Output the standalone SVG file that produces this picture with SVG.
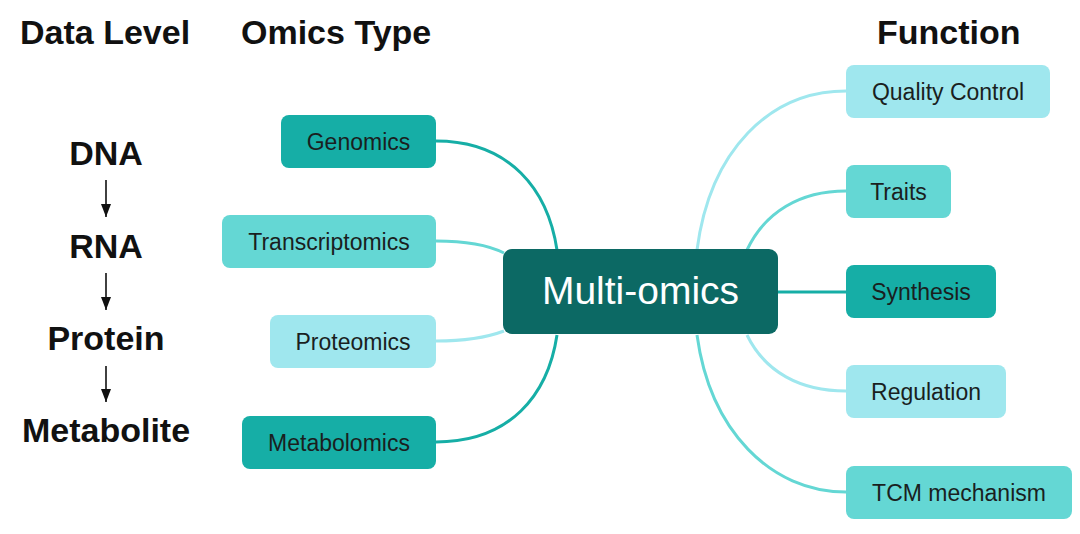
<svg xmlns="http://www.w3.org/2000/svg" width="1080" height="534" viewBox="0 0 1080 534">
<style>
.hdr{font-family:"Liberation Sans",Arial,sans-serif;font-weight:bold;font-size:34px;fill:#111}
.lvl{font-family:"Liberation Sans",Arial,sans-serif;font-weight:bold;font-size:34px;fill:#111;text-anchor:middle}
.lbl{font-family:"Liberation Sans",Arial,sans-serif;font-size:23px;fill:#1a1f1f;text-anchor:middle}
.c0{fill:#0c6964}
.c1{fill:#16aea6}
.c2{fill:#64d7d4}
.c3{fill:#9fe7ee}
.l1{stroke:#16aea6}
.l2{stroke:#64d7d4}
.l3{stroke:#9fe7ee}
.conn path{fill:none;stroke-width:3}
.arr{stroke:#111;stroke-width:1.6;fill:none}
</style>
<defs>
<marker id="ah" viewBox="0 -5 13 10" refX="13" refY="0" markerWidth="13" markerHeight="10" markerUnits="userSpaceOnUse" orient="auto">
<path d="M0,-5 L13,0 L0,5 z" fill="#111"/>
</marker>
</defs>
<rect width="1080" height="534" fill="#fff"/>

<g id="headers">
<text class="hdr" x="20" y="44">Data Level</text>
<text class="hdr" x="241" y="44">Omics Type</text>
<text class="hdr" x="877" y="44">Function</text>
</g>

<g id="levels">
<text class="lvl" x="106" y="165">DNA</text>
<text class="lvl" x="106" y="258">RNA</text>
<text class="lvl" x="106" y="350">Protein</text>
<text class="lvl" x="106" y="442">Metabolite</text>
<line class="arr" x1="106" y1="180" x2="106" y2="217" marker-end="url(#ah)"/>
<line class="arr" x1="106" y1="273" x2="106" y2="310" marker-end="url(#ah)"/>
<line class="arr" x1="106" y1="366" x2="106" y2="402" marker-end="url(#ah)"/>
</g>

<g id="connectors" class="conn">
<path class="l1" d="M436,141 C510,141 548,190 557,250"/>
<path class="l2" d="M436,241 C468,241 488,245 504,253"/>
<path class="l3" d="M436,341 C468,341 488,337 504,331"/>
<path class="l1" d="M436,442 C510,442 548,395 557,335"/>
<path class="l3" d="M697,250 C710,150 770,91 846,91"/>
<path class="l2" d="M747,250 C765,212 800,191 846,191"/>
<path class="l1" d="M778,292 L846,292"/>
<path class="l3" d="M747,335 C765,372 800,391 846,391"/>
<path class="l2" d="M697,335 C710,430 770,492 846,492"/>
</g>

<g id="multiomics">
<rect class="c0" x="503" y="249" width="275" height="85" rx="9"/>
<text x="640.5" y="304" font-family="'Liberation Sans',Arial,sans-serif" font-size="39" fill="#fff" text-anchor="middle">Multi-omics</text>
</g>

<g id="genomics">
<rect class="c1" x="281" y="115" width="155" height="53" rx="8"/>
<text class="lbl" x="358.5" y="149.5">Genomics</text>
</g>
<g id="transcriptomics">
<rect class="c2" x="222" y="215" width="214" height="53" rx="8"/>
<text class="lbl" x="329" y="249.5">Transcriptomics</text>
</g>
<g id="proteomics">
<rect class="c3" x="270" y="315" width="166" height="53" rx="8"/>
<text class="lbl" x="353" y="349.5">Proteomics</text>
</g>
<g id="metabolomics">
<rect class="c1" x="242" y="416" width="194" height="53" rx="8"/>
<text class="lbl" x="339" y="450.5">Metabolomics</text>
</g>

<g id="quality-control">
<rect class="c3" x="846" y="65" width="204" height="53" rx="8"/>
<text class="lbl" x="948" y="99.5">Quality Control</text>
</g>
<g id="traits">
<rect class="c2" x="846" y="165" width="105" height="53" rx="8"/>
<text class="lbl" x="898.5" y="199.5">Traits</text>
</g>
<g id="synthesis">
<rect class="c1" x="846" y="265" width="150" height="53" rx="8"/>
<text class="lbl" x="921" y="299.5">Synthesis</text>
</g>
<g id="regulation">
<rect class="c3" x="846" y="365" width="160" height="53" rx="8"/>
<text class="lbl" x="926" y="399.5">Regulation</text>
</g>
<g id="tcm-mechanism">
<rect class="c2" x="846" y="466" width="226" height="53" rx="8"/>
<text class="lbl" x="959" y="500.5">TCM mechanism</text>
</g>
</svg>
